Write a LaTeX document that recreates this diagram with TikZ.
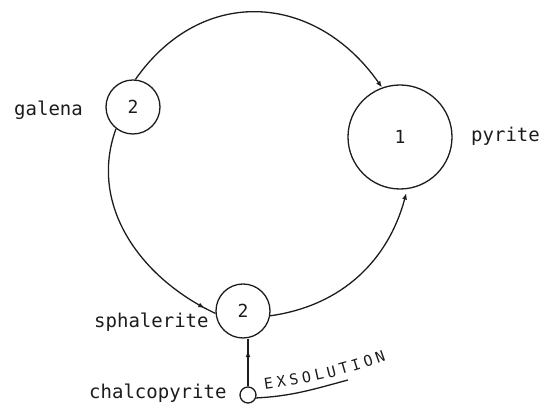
\documentclass[tikz,border=0pt]{standalone}
\usepackage{fontspec}
\usepackage{tikz}
\usetikzlibrary{arrows.meta,positioning,decorations.markings}
\newfontfamily\minfont{DejaVu Sans Mono}
\definecolor{MINink}{HTML}{1C1C1C}
\tikzset{mincirc/.style={draw=MINink,line width=1.3pt,circle,inner sep=0pt,
 font=\minfont\fontsize{18}{18}\selectfont,text=MINink},
 minlbl/.style={inner sep=0pt,font=\minfont\fontsize{19}{19}\selectfont,text=MINink},
 minchar/.style={inner sep=0pt,anchor=base,transform shape,
 font=\minfont\fontsize{15}{15}\selectfont,text=MINink},
 minline/.style={line width=1.3pt,draw=MINink},
 minarr/.style={-{Latex[length=6.5pt,width=5pt]},line width=1.3pt,draw=MINink},
 minmid/.style={line width=1.3pt,draw=MINink,postaction={decorate},
  decoration={markings,mark=at position -12pt with {\arrow{Latex[length=6.5pt,width=5pt]}}}}}

\begin{document}
\begin{tikzpicture}[x=1pt,y=1pt]
\useasboundingbox (0,0) rectangle (544,406);
\node[mincirc,minimum size=54pt] (galena) at (133,299) {2};
\node[mincirc,minimum size=104pt] (pyrite) at (400,269) {1};
\node[mincirc,minimum size=54pt] (sphal) at (243,95) {2};
\node[mincirc,minimum size=16pt] (chalco) at (248,11) {};
\node[minlbl,anchor=base west] (galenalbl) at (14,290) {galena};
\node[minlbl,anchor=base west] (pyritelbl) at (471,264) {pyrite};
\node[minlbl,anchor=base west] (sphallbl) at (94,78) {sphalerite};
\node[minlbl,anchor=base west] (chalcolbl) at (89,7) {chalcopyrite};
\draw[minarr] (galena.85) to[out=55,in=125,looseness=1.2] (pyrite.110);
\draw[minmid] (galena.232) to[out=250,in=155] (sphal.185);
\draw[minarr,shorten >=4pt] (sphal.-10) to[out=8,in=255] (pyrite.278);
\draw[minmid] (chalco.north) -- (chalco.north |- sphal.south);
% exsolution underline and lettering
\coordinate (ulend) at (348,26);
\draw[minline] (chalco.-20) to[out=3,in=195] (ulend);
\coordinate (exsa) at (263,16);
\coordinate (exsb) at (389,47);
\foreach \ch [count=\i] in {E,X,S,O,L,U,T,I,O,N}
 \path[decorate,decoration={markings,
  mark=at position \i*12.9pt-6.4pt with {\node[minchar] {\ch};}}]
  (exsa) to[out=8,in=200] (exsb);
\end{tikzpicture}
\end{document}
